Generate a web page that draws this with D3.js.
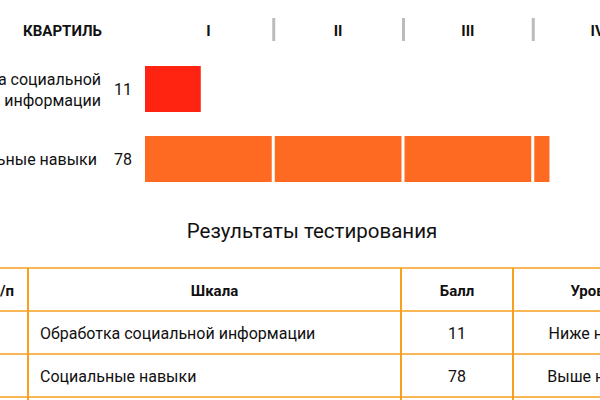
<!DOCTYPE html>
<html><head><meta charset="utf-8">
<script src="https://cdn.jsdelivr.net/npm/d3@7"></script>
<style>body{margin:0;background:#fff}svg{font-family:Roboto,sans-serif}</style>
</head><body>
<svg id="c" width="600" height="400"></svg>
<script>
const quartiles = ['I', 'II', 'III', 'IV'];
const scales = [['Обработка социальной', 'информации'], ['Социальные навыки']];
const scaleNames = ['Обработка социальной информации', 'Социальные навыки'];
const scores = [11, 78];
const levels = ['Ниже нормы', 'Выше нормы'];
const headers = ['№ п/п', 'Шкала', 'Балл', 'Уровень'];

const svg = d3.select('#c');

const x = d3.scaleBand().domain(quartiles).range([145, 145 + 4 * 129]).paddingInner(3 / 129).paddingOuter(0);
const fill = d3.scaleLinear().domain([0, 25]).range([0, x.bandwidth()]).clamp(true);
const y = d3.scaleBand().domain(d3.range(scores.length)).range([54, 194]).paddingInner(24 / 70).paddingOuter(12 / 70);

// header
svg.append('text').attr('x', 102).attr('y', 36).attr('text-anchor', 'end')
  .attr('font-size', 15).attr('font-weight', 'bold').attr('fill', '#111').text('КВАРТИЛЬ');
svg.selectAll('.q').data(quartiles).join('text')
  .attr('x', d => x(d) + x.bandwidth() / 2).attr('y', 36).attr('text-anchor', 'middle')
  .attr('font-size', 15).attr('font-weight', 'bold').attr('fill', '#111').text(d => d);
svg.selectAll('.sep').data(quartiles.slice(1)).join('rect')
  .attr('x', d => x(d) - 2.5).attr('y', 18).attr('width', 3).attr('height', 23).attr('fill', '#bbb');

// rows
scores.forEach((s, i) => {
  const yc = y(i) + y.bandwidth() / 2;
  const lines = scales[i];
  svg.append('text').attr('text-anchor', 'end').attr('font-size', 16).attr('fill', '#111')
    .selectAll('tspan').data(lines).join('tspan')
    .attr('x', i === 0 ? 101 : 97).attr('y', (d, j) => yc + 6 + (j - (lines.length - 1) / 2) * 21).text(d => d);
  svg.append('text').attr('x', 123).attr('y', yc + 6).attr('text-anchor', 'middle')
    .attr('font-size', 16).attr('fill', '#111').text(s);
  const color = s < 25 ? '#ff2312' : '#ff6a22';
  svg.selectAll('.b' + i).data(quartiles).join('rect')
    .attr('x', d => x(d)).attr('y', y(i)).attr('height', y.bandwidth())
    .attr('width', (d, k) => fill(s - 25 * k)).attr('fill', color);
});

// title
svg.append('text').attr('x', 312).attr('y', 238).attr('text-anchor', 'middle')
  .attr('font-size', 20.5).attr('fill', '#111').text('Результаты тестирования');

// table
const cols = [-80, 28, 401, 513, 700];
const rowsY = [268, 311, 354, 397];
const line = '#f7a11c';
rowsY.forEach(v => svg.append('line').attr('x1', 0).attr('x2', 600).attr('y1', v).attr('y2', v)
  .attr('stroke', line).attr('stroke-width', 1.5));
cols.slice(1, 4).forEach(v => svg.append('line').attr('x1', v).attr('x2', v).attr('y1', 268).attr('y2', 400)
  .attr('stroke', line).attr('stroke-width', 2));
headers.forEach((h, j) => {
  const cx = j === 3 ? 600 : (cols[j] + cols[j + 1]) / 2;
  svg.append('text').attr('x', j === 0 ? 14 : cx).attr('y', 296)
    .attr('text-anchor', j === 0 ? 'end' : 'middle')
    .attr('font-size', 15).attr('font-weight', 'bold').attr('fill', '#111').text(h);
});
scores.forEach((s, i) => {
  const ty = rowsY[i + 1] + 28;
  svg.append('text').attr('x', 40).attr('y', ty).attr('font-size', 16).attr('fill', '#111').text(scaleNames[i]);
  svg.append('text').attr('x', 457).attr('y', ty).attr('text-anchor', 'middle').attr('font-size', 16).attr('fill', '#111').text(s);
  svg.append('text').attr('x', 597).attr('y', ty).attr('text-anchor', 'middle').attr('font-size', 16).attr('fill', '#111').text(levels[i]);
});
</script>
</body></html>
